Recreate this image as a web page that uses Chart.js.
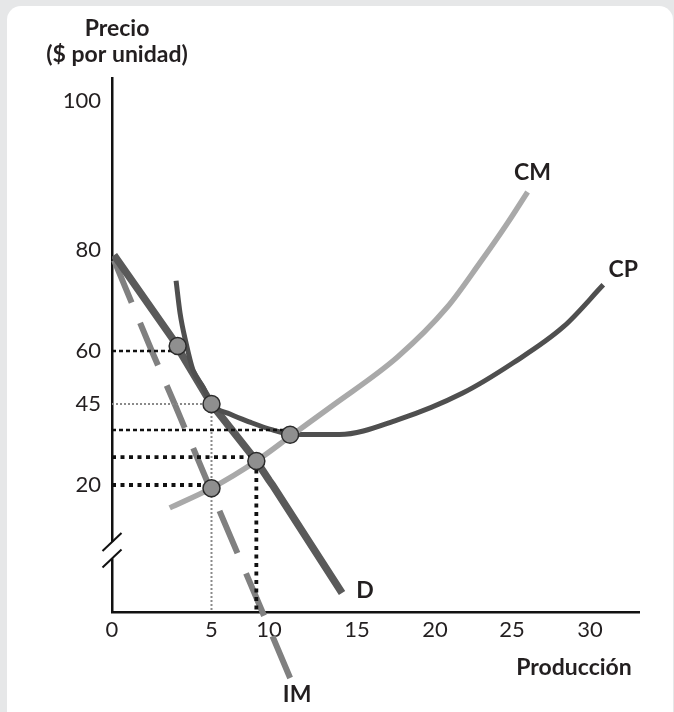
<!DOCTYPE html>
<html>
<head>
<meta charset="utf-8">
<script src="https://cdn.jsdelivr.net/npm/chart.js@4.4.0/dist/chart.umd.min.js"></script>
<style>
  html, body { margin: 0; padding: 0; background: #e6e7e8; }
  canvas { display: block; }
</style>
</head>
<body>
<canvas id="chart" width="674" height="712"></canvas>
<script>
// ---------------- data ----------------
const xTickValues = [0, 5, 10, 15, 20, 25, 30];
const xTickLabels = ['0', '5', '10', '15', '20', '25', '30'];
const yTickValues = [20, 45, 60, 80, 100];
const yTickLabels = ['20', '45', '60', '80', '100'];

const priceTitle = ['Precio', '($ por unidad)'];
const quantityTitle = 'Producción';

// Demanda (D): [producción, precio]
const demandD = [[0.1, 79], [3.3, 61], [3.4, 60], [5, 45], [8.9, 27.4], [10, 21.5], [10.2, 20], [14.15, 3]];
// Ingreso marginal (IM)
const marginalRevenueIM = [[0.1, 78], [2.0, 60], [3.15, 45], [4.86, 20], [5, 18.9], [9.43, 0], [10, -2.5], [11.2, -10.4]];
// Costo marginal (CM)
const marginalCostCM = [[2.9, 16.4], [5, 19.5], [8.9, 27.4], [11.3, 35.4], [13.5, 44.1], [17.6, 58.3], [20.8, 68.7], [22.9, 77.4], [24.7, 83.6], [26, 87.8]];
// Costo promedio (CP)
const averageCostCP = [[3.22, 73.9], [3.42, 67.5], [3.72, 61.6], [4.07, 54.6], [4.57, 49.8], [5, 45], [6.6, 41.9], [8.35, 39.4], [10.2, 37], [11.3, 35.7], [14, 35.6], [17.6, 40.1], [21.8, 48.1], [25.06, 56.6], [28.3, 64.8], [30.84, 73.1]];
// Puntos marcados
const keyPoints = [[3.3, 61], [5, 45], [11.2, 35.5], [8.9, 27.4], [5, 19.5]];

// Líneas guía punteadas
const guideThin = [[[0, 60], [3.3, 60]], [[0, 37], [11.2, 37]]];
const guideBold = [[[0, 28.6], [8.9, 28.6]], [[0, 20], [5, 20]], [[8.9, 27.4], [8.9, 0]]];
const guideGray = [[[0, 45], [5, 45]], [[5, 45], [5, 0]]];

// ---------------- axis layout (schematic, non-uniform spacing) ----------------
// [value, fraction of axis length]
const AXIS_STOPS = {
  x: [[0, 0], [5, 0.1888], [10, 0.2979], [15, 0.4649], [20, 0.6129], [25, 0.759], [30, 0.907], [33.1, 1]],
  y: [[0, 0], [20, 0.2378], [45, 0.3895], [60, 0.4888], [80, 0.6779], [100, 0.9569], [103.1, 1]]
};

function fwd(stops, v) {
  let i = 0;
  if (v <= stops[0][0]) i = 0;
  else if (v >= stops[stops.length - 1][0]) i = stops.length - 2;
  else { while (i < stops.length - 2 && v > stops[i + 1][0]) i++; }
  const [v0, d0] = stops[i], [v1, d1] = stops[i + 1];
  return d0 + (v - v0) / (v1 - v0) * (d1 - d0);
}
function inv(stops, d) {
  let i = 0;
  if (d <= stops[0][1]) i = 0;
  else if (d >= stops[stops.length - 1][1]) i = stops.length - 2;
  else { while (i < stops.length - 2 && d > stops[i + 1][1]) i++; }
  const [v0, d0] = stops[i], [v1, d1] = stops[i + 1];
  return v0 + (d - d0) / (d1 - d0) * (v1 - v0);
}

class PiecewiseScale extends Chart.LinearScale {
  getPixelForValue(value) {
    if (value === null || value === undefined || isNaN(value)) return NaN;
    return this.getPixelForDecimal(fwd(AXIS_STOPS[this.axis], value));
  }
  getValueForPixel(pixel) {
    return inv(AXIS_STOPS[this.axis], this.getDecimalForPixel(pixel));
  }
}
PiecewiseScale.id = 'piecewise';
PiecewiseScale.defaults = Chart.LinearScale.defaults;
Chart.register(PiecewiseScale);

// ---------------- styling ----------------
const INK = '#231f20';
const FONT = 'Lato, "Open Sans", sans-serif';

const toXY = arr => arr.map(([x, y]) => ({ x, y }));

const datasets = [];
datasets.push({
  label: 'puntos', data: toXY(keyPoints), showLine: false,
  pointRadius: 8.5, pointBackgroundColor: '#8f8f8f', pointBorderColor: '#2b2b2b', pointBorderWidth: 1.5,
  order: 0
});
guideThin.forEach(g => datasets.push({
  label: 'guia', data: toXY(g), showLine: true, pointRadius: 0,
  borderColor: '#111', borderWidth: 2.6, borderDash: [4, 3], order: 1
}));
guideBold.forEach(g => datasets.push({
  label: 'guia', data: toXY(g), showLine: true, pointRadius: 0,
  borderColor: '#111', borderWidth: 3.8, borderDash: [4, 4.5], order: 1
}));
guideGray.forEach(g => datasets.push({
  label: 'guia', data: toXY(g), showLine: true, pointRadius: 0,
  borderColor: '#8a8a8a', borderWidth: 2, borderDash: [2, 2], order: 1
}));
datasets.push({
  label: 'CM', data: toXY(marginalCostCM), showLine: true, pointRadius: 0,
  borderColor: '#a9a9a9', borderWidth: 5.5, cubicInterpolationMode: 'monotone', order: 2
});
datasets.push({
  label: 'CP', data: toXY(averageCostCP), showLine: true, pointRadius: 0,
  borderColor: '#4f4f4f', borderWidth: 5, cubicInterpolationMode: 'monotone', order: 3
});
datasets.push({
  label: 'D', data: toXY(demandD), showLine: true, pointRadius: 0,
  borderColor: '#5a5a5a', borderWidth: 7.5, tension: 0, order: 4
});
datasets.push({
  label: 'IM', data: toXY(marginalRevenueIM), showLine: true, pointRadius: 0,
  borderColor: '#808080', borderWidth: 6, borderDash: [46, 22], tension: 0, clip: false, order: 5
});

const backgroundPlugin = {
  id: 'panel',
  beforeDraw(chart) {
    const { ctx, width, height } = chart;
    ctx.save();
    ctx.fillStyle = '#e6e7e8';
    ctx.fillRect(0, 0, width, height);
    ctx.fillStyle = '#ffffff';
    ctx.beginPath();
    ctx.roundRect(7, 6, 666, height + 20, 14);
    ctx.fill();
    ctx.restore();
  }
};

const annotationPlugin = {
  id: 'notes',
  afterDraw(chart) {
    const { ctx } = chart;
    const xs = chart.scales.x, ys = chart.scales.y;
    ctx.save();
    // axis break on the price axis
    const yb = ys.getPixelForValue(9.7);
    const ax = chart.chartArea.left;
    ctx.fillStyle = '#ffffff';
    ctx.fillRect(ax - 4, yb - 8.5, 8, 16.5);
    ctx.strokeStyle = '#111';
    ctx.lineWidth = 2;
    [-8.5, 8].forEach(dy => {
      ctx.beginPath();
      ctx.moveTo(ax - 9.5, yb + dy + 9);
      ctx.lineTo(ax + 9.5, yb + dy - 9);
      ctx.stroke();
    });

    // titles
    ctx.fillStyle = INK;
    ctx.textAlign = 'center';
    ctx.textBaseline = 'middle';
    ctx.font = 'bold 23px ' + FONT;
    ctx.fillText(priceTitle[0], 117, 29);
    ctx.fillText(priceTitle[1], 117, 55);
    ctx.fillText(quantityTitle, 574, 668);

    // curve labels next to curve ends
    const tag = (arr, text, dx, dy) => {
      const [q, p] = arr[arr.length - 1];
      ctx.fillText(text, xs.getPixelForValue(q) + dx, ys.getPixelForValue(p) + dy);
    };
    tag(demandD, 'D', 23, -2);
    tag(marginalRevenueIM, 'IM', 7, 17);
    tag(marginalCostCM, 'CM', 5, -19);
    tag(averageCostCP, 'CP', 20, -15);
    ctx.restore();
  }
};

new Chart(document.getElementById('chart'), {
  type: 'scatter',
  data: { datasets },
  options: {
    responsive: false,
    devicePixelRatio: 1,
    animation: false,
    events: [],
    layout: { padding: { left: 0, right: 35, top: 78, bottom: 0 } },
    plugins: { legend: { display: false }, tooltip: { enabled: false }, title: { display: false } },
    scales: {
      x: {
        type: 'piecewise', min: 0, max: 33.1,
        grid: { display: false, drawTicks: false },
        border: { display: true, color: '#111', width: 2.5 },
        ticks: {
          autoSkip: false, maxRotation: 0, padding: 5, color: INK,
          font: { family: FONT, size: 22, weight: 400 },
          callback: (v, i) => xTickLabels[i]
        },
        afterBuildTicks: s => { s.ticks = xTickValues.map(v => ({ value: v })); },
        afterFit: s => { s.height = 100; }
      },
      y: {
        type: 'piecewise', min: 0, max: 103.1,
        grid: { display: false, drawTicks: false },
        border: { display: true, color: '#111', width: 2.5 },
        ticks: {
          autoSkip: false, padding: 11, color: INK,
          font: { family: FONT, size: 22, weight: 400 },
          callback: (v, i) => yTickLabels[i]
        },
        afterBuildTicks: s => { s.ticks = yTickValues.map(v => ({ value: v })); },
        afterFit: s => { s.width = 112; }
      }
    }
  },
  plugins: [backgroundPlugin, annotationPlugin]
});
</script>
</body>
</html>
